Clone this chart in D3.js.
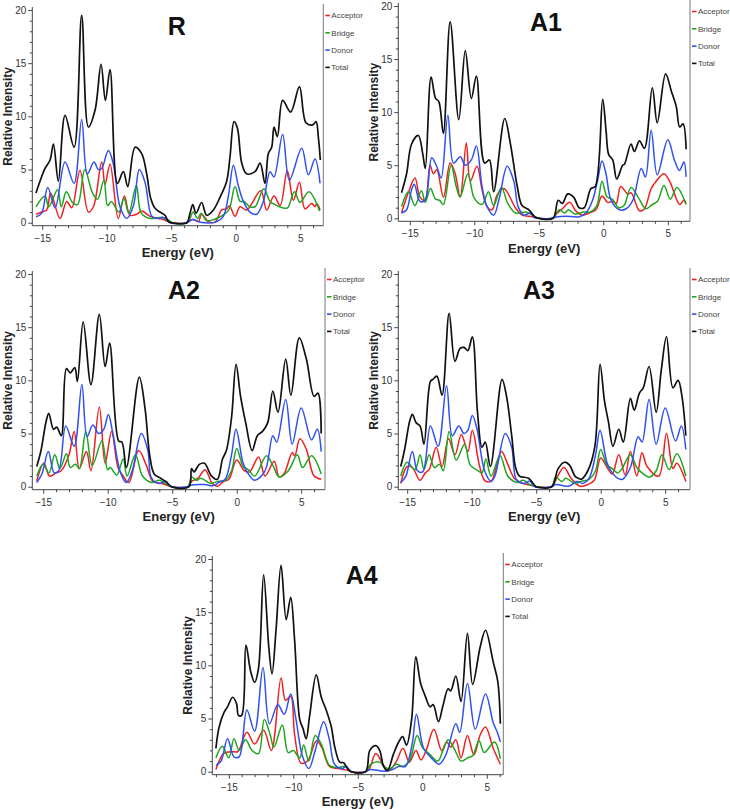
<!DOCTYPE html>
<html><head><meta charset="utf-8">
<script src="https://cdn.jsdelivr.net/npm/d3@7"></script>
<style>body{margin:0;background:#fff} svg{display:block}</style>
</head><body>
<svg id="chart" width="730" height="810"></svg>
<script>
// ---------- data (energy eV, relative intensity) ----------
const panelNames = ["R", "A1", "A2", "A3", "A4"];
const seriesNames = ["Acceptor", "Bridge", "Donor", "Total"];
const yTickValues = [0, 5, 10, 15, 20];
const xTickValues = [-15, -10, -5, 0, 5];

const rAcceptor = [[-15.48,0.8],[-15.04,1.0],[-14.65,1.2],[-14.34,2.8],[-13.62,0.4],[-13.1,2.0],[-12.71,1.4],[-12.07,4.9],[-11.42,1.0],[-11.03,1.5],[-10.39,5.7],[-10.13,3.6],[-9.74,5.5],[-9.1,0.4],[-8.63,2.5],[-8.19,0.7],[-7.67,0.8],[-7.29,1.1],[-6.64,0.6],[-5.99,0.4],[-5.61,0.3],[-5.22,0.1],[-4.96,0],[-3.8,0],[-3.33,0.3],[-2.89,0.1],[-2.64,0.8],[-2.12,0.1],[-1.6,0.05],[-1.34,0.6],[-1.09,1.2],[-0.7,1.3],[-0.49,1.6],[-0.05,0.6],[0.34,1.5],[0.85,1.2],[1.94,3.0],[2.4,1.2],[2.97,2.5],[3.44,1.6],[4.0,4.9],[4.47,2.1],[4.94,3.8],[5.37,1.3],[5.89,1.8],[6.15,1.5],[6.28,1.8],[6.54,1.2]];
const rBridge = [[-15.48,1.5],[-14.78,2.5],[-14.49,1.5],[-13.81,3.1],[-13.52,1.5],[-13.13,2.9],[-12.65,1.9],[-12.26,1.7],[-11.7,5.0],[-11.1,2.8],[-10.71,2.2],[-10.22,4.0],[-9.93,1.6],[-9.64,2.0],[-9.06,1.0],[-8.67,2.3],[-8.29,0.9],[-7.7,3.5],[-7.32,0.9],[-6.64,0.4],[-5.86,0.5],[-5.38,0.4],[-4.9,0],[-3.73,0],[-3.3,1.0],[-2.96,0.4],[-2.67,0.9],[-2.28,0.2],[-1.7,0.3],[-1.02,0.7],[-0.53,1.2],[-0.05,3.4],[0.34,2.0],[0.63,2.0],[1.11,1.5],[1.5,1.5],[2.18,3.2],[2.66,2.0],[3.05,1.7],[3.63,1.4],[4.02,1.4],[4.55,2.9],[4.99,1.9],[5.67,2.9],[6.5,1.1]];
const rDonor = [[-15.48,0.55],[-15.04,0.9],[-14.57,3.3],[-14.0,1.4],[-13.23,5.7],[-12.53,3.7],[-11.94,9.7],[-11.5,4.6],[-10.98,5.7],[-10.65,5.0],[-10.39,5.1],[-9.87,6.8],[-9.48,5.5],[-8.97,1.5],[-8.45,0.4],[-7.93,1.6],[-7.47,5.0],[-7.03,3.8],[-6.51,0.6],[-6.12,0.4],[-5.61,0.5],[-5.09,0],[-3.8,0],[-3.33,0.3],[-2.76,0.05],[-1.47,0.1],[-0.96,0.6],[-0.57,2.5],[-0.18,5.4],[0.2,3.5],[0.59,2.0],[1.11,1.0],[1.63,0.8],[2.14,2.0],[2.66,4.8],[2.97,4.3],[3.64,8.3],[4.16,4.0],[5.12,7.0],[5.63,4.5],[6.15,6.0],[6.54,3.7]];
const rTotal = [[-15.48,2.8],[-15.17,3.9],[-14.78,5.1],[-14.39,5.9],[-14.13,7.4],[-13.75,3.9],[-13.23,10.1],[-12.53,7.1],[-11.94,19.5],[-11.42,9.0],[-10.9,10.6],[-10.44,14.9],[-10.1,11.5],[-9.74,14.4],[-9.17,3.7],[-8.71,4.8],[-8.37,3.4],[-7.8,7.1],[-7.29,6.5],[-6.9,4.6],[-6.59,2.3],[-6.25,1.35],[-5.87,1.0],[-5.48,0.7],[-5.22,0.1],[-4.96,0],[-3.8,0],[-3.54,0.9],[-3.33,1.7],[-3.07,0.9],[-2.64,1.9],[-2.25,0.7],[-1.73,1.2],[-1.21,2.4],[-0.7,3.9],[-0.44,6.2],[-0.13,9.5],[0.13,8.9],[0.47,5.6],[0.85,4.6],[1.5,4.8],[1.89,5.6],[2.27,3.7],[2.53,6.5],[2.79,7.1],[2.97,9.0],[3.23,8.1],[3.64,11.5],[4.26,10.4],[4.94,12.8],[5.45,9.4],[5.97,9.2],[6.23,9.5],[6.41,8.0],[6.56,5.9]];

const a1Acceptor = [[-15.64,0.5],[-15.12,2.4],[-14.6,3.8],[-14.21,2.0],[-13.82,1.7],[-13.43,5.0],[-13.17,4.2],[-12.91,4.6],[-12.39,2.0],[-11.87,5.2],[-11.48,4.2],[-11.09,2.0],[-10.62,7.1],[-10.31,3.5],[-9.79,4.9],[-9.4,2.7],[-9.01,1.1],[-8.62,0.8],[-8.23,2.2],[-7.71,2.8],[-6.81,1.0],[-6.29,0.3],[-5.51,0.15],[-4.99,0],[-3.95,0],[-3.56,0.5],[-3.17,0.9],[-2.6,1.5],[-2.13,0.7],[-1.61,0.3],[-1.09,0.5],[-0.57,0.8],[-0.1,2.1],[0.34,1.5],[0.73,1.6],[1.0,1.4],[1.35,3.0],[1.9,2.3],[2.16,2.4],[2.81,0.7],[3.19,0.9],[3.71,2.8],[4.1,3.5],[4.7,4.2],[5.14,3.5],[5.92,1.3],[6.25,1.7],[6.42,1.4]];
const a1Bridge = [[-15.64,1.1],[-15.1,2.5],[-14.6,1.2],[-14.1,2.6],[-13.8,1.5],[-13.4,2.8],[-13.0,1.8],[-12.7,1.7],[-12.4,1.3],[-11.8,5.0],[-11.4,3.0],[-11.1,2.0],[-10.5,4.2],[-10.0,1.9],[-9.4,1.3],[-8.9,2.5],[-8.5,1.2],[-7.9,2.9],[-7.4,1.4],[-6.8,0.5],[-6.0,0.6],[-5.5,0.3],[-5.0,0],[-3.95,0],[-3.4,0.8],[-3.0,0.5],[-2.7,0.8],[-2.2,0.4],[-1.5,0.6],[-1.0,0.6],[-0.5,1.2],[-0.1,3.5],[0.3,2.0],[0.7,1.8],[1.2,1.0],[1.6,1.2],[2.15,2.9],[2.7,2.0],[3.3,0.9],[3.8,1.3],[4.2,1.6],[4.7,3.1],[5.2,1.8],[5.7,2.9],[6.42,1.3]];
const a1Donor = [[-15.64,0.5],[-15.25,0.8],[-14.86,2.7],[-14.65,3.2],[-14.21,1.6],[-13.82,1.7],[-13.3,5.7],[-12.92,4.9],[-12.57,3.8],[-12.05,9.7],[-11.61,5.2],[-11.09,5.8],[-10.7,5.0],[-10.23,5.5],[-9.84,6.8],[-9.4,3.0],[-9.01,1.1],[-8.49,0.3],[-8.1,1.7],[-7.45,4.9],[-6.94,3.5],[-6.6,1.1],[-6.16,0.3],[-5.64,0.5],[-5.38,0.1],[-5.0,0],[-3.95,0],[-3.57,0.15],[-2.91,0.2],[-1.87,0.15],[-1.35,0.5],[-0.83,1.7],[-0.44,3.6],[-0.1,5.4],[0.21,4.2],[0.6,1.7],[1.25,0.8],[1.77,0.9],[2.29,1.7],[2.94,4.7],[3.27,3.9],[3.71,8.3],[4.18,4.1],[5.0,7.4],[5.51,5.5],[5.9,4.5],[6.25,5.3],[6.42,3.9]];
const a1Total = [[-15.64,2.4],[-15.25,4.2],[-14.86,7.0],[-14.34,7.8],[-14.0,6.1],[-13.8,4.7],[-13.35,13.3],[-13.0,11.3],[-12.75,11.0],[-12.4,8.0],[-11.87,18.5],[-11.2,9.3],[-10.7,15.8],[-10.23,11.3],[-9.84,13.4],[-9.2,5.2],[-8.83,5.5],[-8.5,2.5],[-7.64,9.4],[-7.2,7.0],[-6.67,3.0],[-6.3,1.2],[-5.77,0.8],[-5.5,0.4],[-5.25,0.1],[-5.0,0],[-3.9,0],[-3.5,1.7],[-3.18,1.4],[-2.75,2.3],[-2.3,2.0],[-1.87,1.0],[-1.48,1.0],[-0.96,2.8],[-0.62,3.0],[-0.05,11.2],[0.21,8.3],[0.42,6.0],[0.73,5.5],[1.04,3.7],[1.5,5.0],[1.64,5.1],[2.15,7.0],[2.41,6.3],[2.8,7.3],[3.19,6.6],[3.8,12.3],[4.18,9.0],[4.83,13.6],[5.27,12.0],[5.66,10.5],[5.92,8.6],[6.18,8.9],[6.42,6.5]];

const a2Acceptor = [[-15.5,0.5],[-14.95,2.2],[-14.5,1.0],[-14.0,1.3],[-13.6,1.5],[-13.0,3.0],[-12.6,5.2],[-12.2,1.7],[-11.65,3.3],[-11.3,1.5],[-10.65,7.5],[-10.2,2.2],[-9.7,5.2],[-9.2,1.8],[-8.8,1.0],[-8.35,0.4],[-7.6,3.4],[-7.0,2.0],[-6.5,0.5],[-5.8,0.3],[-5.0,0],[-3.8,0],[-3.5,0.5],[-3.0,0.8],[-2.45,1.6],[-1.9,0.3],[-1.5,0.05],[-1.0,0.5],[-0.6,0.7],[0.0,2.5],[0.6,1.5],[1.0,1.4],[1.7,2.8],[2.2,1.0],[2.9,2.4],[3.3,0.9],[3.7,1.3],[4.3,3.2],[4.5,2.9],[4.9,4.5],[5.4,3.5],[6.0,1.0],[6.55,0.7]];
const a2Bridge = [[-15.5,1.0],[-15.0,2.1],[-14.55,1.3],[-14.1,3.0],[-13.7,1.7],[-13.2,3.1],[-12.9,1.8],[-12.5,2.1],[-12.2,1.7],[-11.7,5.2],[-11.2,2.0],[-10.45,4.3],[-10.0,1.6],[-9.8,1.8],[-9.3,1.1],[-8.8,2.6],[-8.5,1.0],[-7.85,3.0],[-7.3,1.0],[-6.6,0.4],[-6.0,0.6],[-5.5,0.3],[-5.0,0],[-3.8,0],[-3.5,0.9],[-3.1,0.6],[-2.8,0.8],[-2.0,0.3],[-1.5,0.5],[-0.9,0.6],[-0.4,1.5],[0.0,3.6],[0.5,1.9],[0.9,1.6],[1.4,1.0],[2.3,2.9],[2.8,2.0],[3.3,0.9],[4.0,1.5],[4.7,3.0],[5.1,1.8],[5.8,2.9],[6.55,1.2]];
const a2Donor = [[-15.5,0.4],[-15.1,1.2],[-14.6,3.3],[-14.15,1.3],[-13.8,1.5],[-13.25,5.7],[-12.6,3.8],[-12.0,9.6],[-11.6,4.7],[-11.15,5.8],[-10.7,5.0],[-10.3,5.4],[-9.95,6.8],[-9.6,5.0],[-9.0,1.3],[-8.55,0.4],[-8.1,1.5],[-7.4,5.0],[-6.9,3.5],[-6.6,0.8],[-6.0,0.3],[-5.5,0.5],[-5.1,0],[-3.8,0],[-3.5,0.15],[-2.5,0.2],[-1.8,0.1],[-1.4,0.4],[-0.9,0.7],[-0.4,3.0],[-0.05,5.4],[0.5,2.2],[0.9,1.2],[1.4,0.6],[2.2,1.5],[2.8,4.8],[3.1,4.2],[3.8,8.2],[4.3,4.0],[5.0,7.4],[5.8,4.4],[6.25,5.4],[6.55,3.3]];
const a2Total = [[-15.5,1.9],[-15.17,3.4],[-14.78,6.1],[-14.57,6.9],[-14.2,5.4],[-13.95,5.6],[-13.6,4.8],[-13.2,11.1],[-12.9,10.7],[-12.55,11.2],[-12.35,9.9],[-11.9,15.5],[-11.3,9.6],[-10.65,16.2],[-10.2,11.3],[-9.85,13.5],[-9.15,4.3],[-8.9,4.2],[-8.55,1.8],[-7.55,10.3],[-7.1,7.3],[-6.75,3.0],[-6.4,1.2],[-5.9,0.8],[-5.5,0.5],[-5.05,0],[-3.7,0],[-3.5,1.7],[-3.3,1.4],[-2.9,2.1],[-2.5,2.2],[-1.95,1.0],[-1.5,0.7],[-1.1,2.6],[-0.8,3.4],[-0.4,6.5],[-0.05,11.5],[0.3,8.5],[0.7,6.0],[1.2,3.4],[1.6,4.8],[2.0,5.2],[2.4,6.0],[2.8,9.0],[3.2,7.0],[3.8,12.0],[4.2,8.6],[4.85,14.0],[5.4,12.0],[6.0,8.5],[6.3,8.8],[6.55,5.0]];

const a3Acceptor = [[-15.5,0.3],[-15.0,1.9],[-14.6,1.8],[-14.0,0.6],[-13.6,1.3],[-13.3,1.6],[-12.75,3.7],[-12.3,1.9],[-11.8,4.5],[-11.3,3.0],[-10.8,4.9],[-10.3,3.3],[-9.95,5.3],[-9.4,2.0],[-9.0,0.6],[-8.5,0.5],[-7.7,3.3],[-7.2,2.1],[-6.7,0.8],[-6.0,0.3],[-5.3,0.1],[-5.0,0],[-3.8,0],[-3.5,0.6],[-2.85,1.8],[-2.3,0.8],[-1.6,0.05],[-1.0,0.2],[-0.5,0.6],[0.0,2.7],[0.5,1.8],[0.9,1.2],[1.4,3.0],[1.9,1.1],[2.3,3.3],[2.8,1.0],[3.2,3.2],[3.6,1.9],[4.5,1.0],[5.1,5.0],[5.6,1.7],[5.9,2.2],[6.6,0.5]];
const a3Bridge = [[-15.5,1.0],[-15.0,2.3],[-14.4,1.6],[-14.0,3.0],[-13.7,1.6],[-13.3,3.0],[-12.9,1.8],[-12.5,2.1],[-12.2,1.5],[-11.75,5.2],[-11.2,2.5],[-10.55,4.0],[-10.1,2.0],[-9.5,1.5],[-9.2,1.3],[-8.9,2.6],[-8.5,1.0],[-7.8,2.9],[-7.2,1.0],[-6.5,0.4],[-6.0,0.6],[-5.5,0.2],[-5.0,0],[-3.8,0],[-3.5,0.9],[-3.0,0.5],[-2.7,0.8],[-2.0,0.3],[-1.5,0.5],[-0.9,0.7],[-0.4,1.5],[0.0,3.5],[0.5,2.0],[0.9,1.7],[1.3,1.3],[1.6,1.6],[2.3,3.0],[2.8,1.8],[3.3,1.2],[3.8,0.9],[4.3,1.5],[4.75,3.0],[5.3,1.6],[5.9,3.1],[6.6,1.0]];
const a3Donor = [[-15.5,0.4],[-15.1,1.0],[-14.6,3.3],[-14.2,1.5],[-13.8,1.4],[-13.2,5.7],[-12.6,3.8],[-11.95,9.5],[-11.5,4.8],[-11.0,5.7],[-10.6,5.0],[-10.3,5.3],[-9.95,6.7],[-9.6,5.5],[-9.0,1.5],[-8.5,0.5],[-8.2,1.0],[-7.4,5.0],[-6.9,3.7],[-6.55,0.7],[-6.0,0.3],[-5.5,0.5],[-5.1,0],[-3.8,0],[-3.5,0.2],[-2.5,0.05],[-1.8,0.5],[-1.4,0.3],[-0.9,0.8],[-0.4,3.0],[-0.05,5.3],[0.5,2.2],[0.9,1.3],[1.3,0.8],[1.7,0.7],[2.3,1.8],[2.9,4.7],[3.2,4.2],[3.75,8.2],[4.3,4.0],[5.0,7.4],[5.8,4.3],[6.25,5.7],[6.6,3.5]];
const a3Total = [[-15.5,1.9],[-15.2,3.5],[-14.8,6.2],[-14.6,6.8],[-14.3,6.0],[-14.0,5.7],[-13.7,4.0],[-13.2,9.9],[-13.0,10.1],[-12.7,10.4],[-12.3,8.6],[-11.75,16.3],[-11.3,11.8],[-10.9,13.0],[-10.6,13.1],[-10.3,12.8],[-9.95,14.1],[-9.55,7.0],[-9.2,3.7],[-8.95,4.2],[-8.55,1.9],[-7.65,10.1],[-7.3,8.5],[-6.9,4.8],[-6.6,1.8],[-6.3,1.0],[-5.6,0.8],[-5.1,0.1],[-5.0,0],[-3.8,0],[-3.3,1.7],[-2.8,2.3],[-2.4,2.0],[-2.0,1.0],[-1.75,0.8],[-1.5,0.7],[-1.0,1.5],[-0.45,3.8],[-0.05,11.5],[0.3,8.0],[0.6,6.1],[0.95,3.8],[1.4,5.4],[1.75,4.2],[2.3,8.3],[2.6,7.2],[3.0,8.8],[3.3,9.3],[3.75,11.3],[4.3,7.0],[4.7,11.0],[5.1,14.1],[5.6,9.3],[6.0,10.0],[6.3,8.5],[6.6,4.8]];

const a4Acceptor = [[-16.0,0.2],[-15.4,1.7],[-14.8,1.9],[-14.3,1.9],[-13.6,3.7],[-13.0,2.6],[-12.3,3.9],[-11.7,2.0],[-10.95,8.8],[-10.6,6.7],[-10.2,7.1],[-9.9,3.5],[-9.4,0.8],[-8.9,1.0],[-8.2,2.9],[-7.8,2.3],[-7.2,0.5],[-6.5,0.3],[-5.7,0.1],[-5.5,0],[-4.4,0],[-4.1,0.3],[-3.6,1.7],[-3.0,0.6],[-2.6,0.1],[-2.0,1.0],[-1.5,2.2],[-1.0,0.9],[-0.5,2.0],[-0.1,1.1],[0.3,2.0],[0.9,4.0],[1.5,2.0],[1.9,2.8],[2.2,2.3],[2.6,3.0],[3.0,1.3],[3.5,3.4],[4.0,1.6],[4.5,3.5],[4.9,4.2],[5.5,2.2],[6.05,0.7]];
const a4Bridge = [[-16.0,1.3],[-15.5,2.4],[-15.0,1.3],[-14.6,3.1],[-14.2,2.0],[-13.7,3.0],[-13.2,2.0],[-12.7,1.7],[-12.25,4.9],[-11.8,3.5],[-11.5,2.3],[-10.85,4.4],[-10.4,1.8],[-10.0,2.0],[-9.5,1.3],[-9.2,2.5],[-8.8,1.0],[-8.3,3.4],[-7.8,2.5],[-7.2,0.6],[-6.5,0.4],[-6.0,0.5],[-5.7,0.2],[-5.5,0],[-4.4,0],[-4.0,0.7],[-3.3,0.9],[-2.9,0.4],[-2.5,0.3],[-2.0,0.7],[-1.5,0.5],[-1.0,1.0],[-0.4,3.4],[0.0,2.3],[0.6,1.6],[1.2,1.0],[1.6,2.0],[2.0,3.0],[2.5,2.1],[3.0,1.0],[3.5,1.3],[3.9,1.5],[4.4,2.9],[4.8,1.8],[5.6,2.8],[6.05,1.2]];
const a4Donor = [[-16.0,0.6],[-15.6,1.0],[-15.1,3.1],[-14.6,1.4],[-14.2,1.4],[-13.6,5.8],[-13.0,3.8],[-12.35,9.8],[-11.85,4.5],[-11.2,6.3],[-10.7,5.4],[-10.2,7.3],[-9.8,5.0],[-9.3,1.5],[-8.8,0.3],[-8.3,2.0],[-7.65,4.7],[-7.2,3.0],[-6.8,0.7],[-6.2,0.3],[-5.9,0.5],[-5.5,0],[-4.4,0],[-4.0,0.2],[-3.0,0.05],[-2.3,0.2],[-1.8,0.5],[-1.3,0.5],[-0.8,2.5],[-0.45,5.4],[0.1,2.2],[0.7,1.3],[1.3,0.7],[1.8,1.5],[2.6,4.5],[2.9,3.7],[3.5,8.3],[4.1,4.0],[4.9,7.3],[5.5,4.6],[5.85,3.6],[6.05,2.8]];
const a4Total = [[-16.0,2.2],[-15.75,4.2],[-15.36,5.6],[-15.1,6.1],[-14.7,7.0],[-14.4,6.4],[-14.25,5.3],[-14.0,5.3],[-13.67,11.9],[-13.3,9.4],[-13.0,8.4],[-12.7,9.7],[-12.3,18.5],[-11.9,11.7],[-11.65,9.2],[-11.34,13.3],[-10.95,19.4],[-10.55,14.3],[-10.2,16.4],[-9.9,12.4],[-9.5,4.9],[-9.26,4.1],[-9.0,3.1],[-8.74,5.2],[-8.22,9.1],[-7.83,7.0],[-7.45,5.8],[-7.05,4.2],[-6.8,2.4],[-6.4,0.9],[-6.1,0.85],[-5.95,0.6],[-5.7,0.15],[-5.5,0],[-4.4,0],[-4.07,2.0],[-3.6,2.45],[-3.3,2.0],[-3.0,0.5],[-2.7,0.1],[-2.25,1.6],[-1.87,2.7],[-1.53,3.3],[-1.22,2.5],[-0.83,4.9],[-0.5,10.8],[-0.13,8.3],[0.2,7.2],[0.6,6.1],[0.85,6.3],[1.25,4.7],[1.6,6.2],[2.0,7.8],[2.2,7.6],[2.6,9.0],[3.0,6.6],[3.5,13.0],[3.9,8.2],[4.5,11.8],[4.9,13.3],[5.5,10.3],[5.85,8.5],[6.05,4.5]];

const panelSeries = {
  R:  [rAcceptor, rBridge, rDonor, rTotal],
  A1: [a1Acceptor, a1Bridge, a1Donor, a1Total],
  A2: [a2Acceptor, a2Bridge, a2Donor, a2Total],
  A3: [a3Acceptor, a3Bridge, a3Donor, a3Total],
  A4: [a4Acceptor, a4Bridge, a4Donor, a4Total]
};

// ---------- layout / style ----------
const colors = ["#ee2020", "#1fa51f", "#3050f2", "#111111"];
const pxPerEv = 12.9;
const layout = {
  R:  {zeroX: 235.7, left: 32.3,  right: 323.3, y0: 222.7, y20: 10,  titleX: 176.7},
  A1: {zeroX: 603.3, left: 398.3, right: 690,   y0: 218.3, y20: 6,   titleX: 546},
  A2: {zeroX: 236.7, left: 32.3,  right: 325,   y0: 486.7, y20: 274, titleX: 184},
  A3: {zeroX: 600.7, left: 398.3, right: 690,   y0: 486.7, y20: 274, titleX: 539},
  A4: {zeroX: 422.3, left: 212.3, right: 503.3, y0: 771.7, y20: 559, titleX: 361.7}
};
const FONT = "'Liberation Sans', Arial, sans-serif";
const axisColor = "#444";

const svg = d3.select("#chart");

panelNames.forEach(name => {
  const L = layout[name];
  const xAxisY = L.y0 + 3;
  const x = d3.scaleLinear()
    .domain([(L.left - L.zeroX) / pxPerEv, (L.right - L.zeroX) / pxPerEv])
    .range([L.left, L.right]);
  const y = d3.scaleLinear().domain([0, 20]).range([L.y0, L.y20]);
  const g = svg.append("g");

  const [d0, d1] = x.domain();
  const minorX = d3.range(Math.ceil(d0), Math.floor(d1) + 1).filter(v => v % 5 !== 0);
  const minorAxisX = g.append("g").attr("transform", `translate(0,${xAxisY})`)
    .call(d3.axisBottom(x).tickValues(minorX).tickSize(2.5).tickFormat(""));
  minorAxisX.select(".domain").remove();
  const majorAxisX = g.append("g").attr("transform", `translate(0,${xAxisY})`)
    .call(d3.axisBottom(x).tickValues(xTickValues).tickSize(4).tickPadding(5).tickFormat(d3.format("d")));
  majorAxisX.select(".domain").remove();

  const minorY = d3.range(0, 21).filter(v => v % 5 !== 0);
  const minorAxisY = g.append("g").attr("transform", `translate(${L.left},0)`)
    .call(d3.axisLeft(y).tickValues(minorY).tickSize(2.5).tickFormat(""));
  minorAxisY.select(".domain").remove();
  const majorAxisY = g.append("g").attr("transform", `translate(${L.left},0)`)
    .call(d3.axisLeft(y).tickValues(yTickValues).tickSize(4).tickPadding(2).tickFormat(d3.format("d")));
  majorAxisY.select(".domain").remove();

  g.selectAll(".tick line").attr("stroke", axisColor);
  g.selectAll(".tick text").attr("fill", "#333").style("font-family", FONT).style("font-size", "10px");

  g.append("line").attr("x1", L.left).attr("x2", L.right).attr("y1", xAxisY).attr("y2", xAxisY)
    .attr("stroke", axisColor).attr("stroke-width", 1);
  g.append("line").attr("x1", L.left).attr("x2", L.left).attr("y1", L.y20 - 3).attr("y2", xAxisY)
    .attr("stroke", axisColor).attr("stroke-width", 1);
  g.append("line").attr("x1", L.right).attr("x2", L.right).attr("y1", Math.max(0, L.y20 - 6)).attr("y2", xAxisY)
    .attr("stroke", "#777").attr("stroke-width", 1);

  const line = d3.line().x(d => x(d[0])).y(d => y(d[1])).curve(d3.curveCatmullRom.alpha(0.5));
  panelSeries[name].forEach((s, i) => {
    g.append("path").datum(s).attr("d", line)
      .attr("fill", "none").attr("stroke", colors[i])
      .attr("stroke-width", i === 3 ? 1.7 : 1.5).attr("stroke-linejoin", "round");
  });

  seriesNames.forEach((s, i) => {
    const ly = L.y20 + 5.5 + i * 17.3;
    g.append("line").attr("x1", L.right + 2).attr("x2", L.right + 6.5).attr("y1", ly).attr("y2", ly)
      .attr("stroke", colors[i]).attr("stroke-width", 1.6);
    g.append("text").attr("x", L.right + 8).attr("y", ly).attr("dy", "0.35em")
      .attr("fill", "#444").style("font-family", FONT).style("font-size", "8px").text(s);
  });

  g.append("text").attr("x", L.titleX).attr("y", L.y20 + 25).attr("text-anchor", "middle")
    .style("font-family", FONT).style("font-weight", "bold").style("font-size", "25px")
    .attr("fill", "#111").text(name);

  g.append("text").attr("x", (L.left + L.right) / 2).attr("y", xAxisY + 27).attr("dy", "0.35em")
    .attr("text-anchor", "middle").style("font-family", FONT).style("font-weight", "bold")
    .style("font-size", "13px").attr("fill", "#222").text("Energy (eV)");
  g.append("text").attr("transform", `translate(${L.left - 25},${(L.y0 + L.y20) / 2}) rotate(-90)`)
    .attr("dy", "0.35em").attr("text-anchor", "middle").style("font-family", FONT)
    .style("font-weight", "bold").style("font-size", "12px").attr("fill", "#222").text("Relative Intensity");
});
</script>
</body></html>
